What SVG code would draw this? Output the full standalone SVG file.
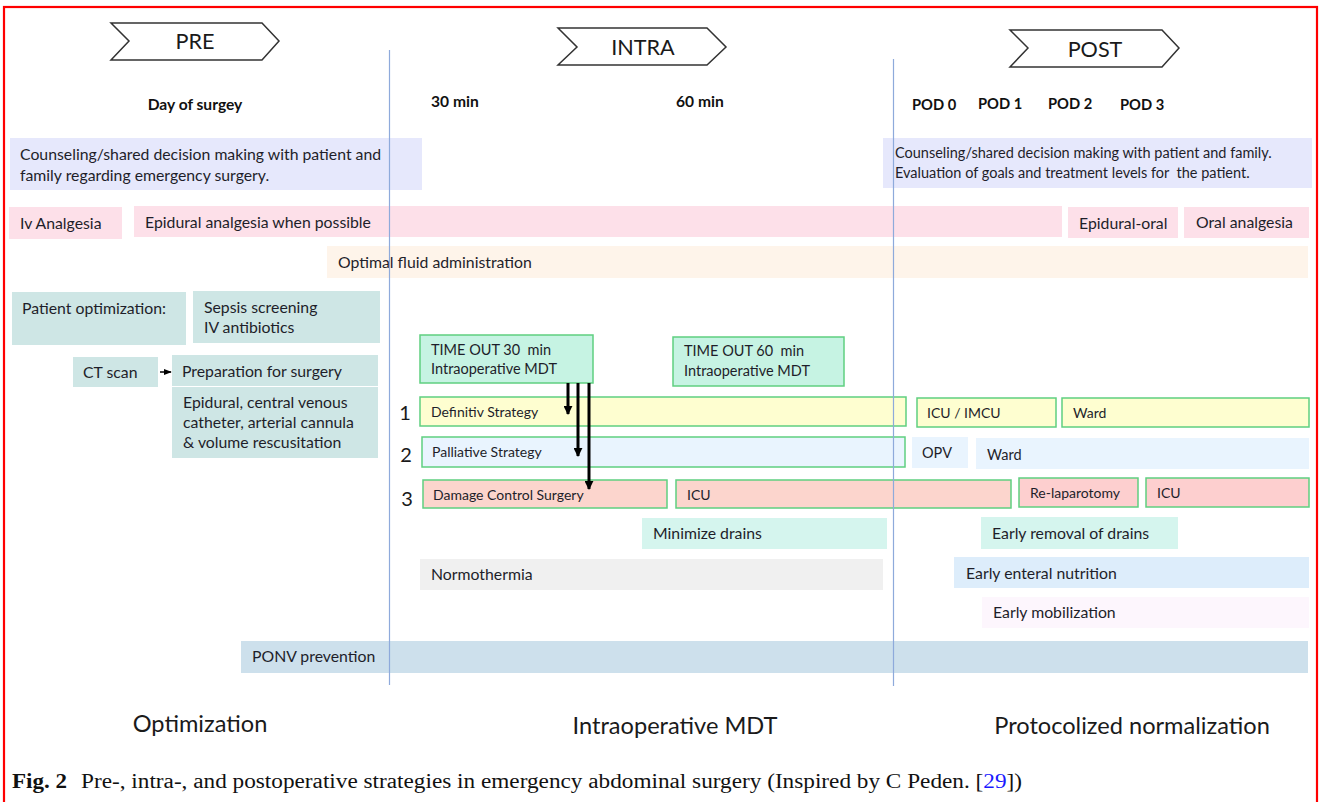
<svg xmlns="http://www.w3.org/2000/svg" width="1320" height="802" viewBox="0 0 1320 802">
<defs>
<style>
.t{font-family:Lato,"Noto Sans","Liberation Sans",sans-serif;font-size:15.8px;fill:#1e1e2a}
.s{font-size:14px}
.m{font-size:14.5px}
.b{font-family:Lato,"Noto Sans","Liberation Sans",sans-serif;font-size:15.6px;font-weight:bold;fill:#111}
.pod{font-size:14.7px}
.big{font-family:Lato,"Noto Sans","Liberation Sans",sans-serif;font-size:23.6px;fill:#1a1a1a}
.chv{font-size:21.6px}
.num{font-family:Lato,"Noto Sans","Liberation Sans",sans-serif;font-size:20px;fill:#1a1a1a}
.cap{font-family:"Liberation Serif","Times New Roman",serif;font-size:20px;fill:#111}
.chev{fill:#fff;stroke:#333;stroke-width:1.5}
.g{stroke:#5fcf80;stroke-width:1.5}
.vl{stroke:#8eaadb;stroke-width:1.2}
.ar{stroke:#000;stroke-width:3;fill:none}
</style>
<marker id="ah" viewBox="0 0 10 10" refX="9" refY="5" markerWidth="3" markerHeight="3" orient="auto"><path d="M0,0 L10,5 L0,10 z" fill="#000"/></marker>
<marker id="ah2" viewBox="0 0 10 10" refX="9" refY="5" markerWidth="8" markerHeight="8" markerUnits="userSpaceOnUse" orient="auto"><path d="M0,1 L10,5 L0,9 z" fill="#000"/></marker>
</defs>
<rect x="0" y="0" width="1320" height="802" fill="#fff"/>
<rect x="4" y="7" width="1313" height="810" fill="none" stroke="#f00" stroke-width="2.2"/>

<g id="phase-pre"><polygon class="chev" points="111,23 262,23 279,41 262,60 111,60 129,41"/><text class="big chv" x="195" y="49" text-anchor="middle">PRE</text></g>
<g id="phase-intra"><polygon class="chev" points="558,28 707,28 726,47 707,65 558,65 577,47"/><text class="big chv" x="643" y="55" text-anchor="middle">INTRA</text></g>
<g id="phase-post"><polygon class="chev" points="1010,30 1162,30 1179,48 1162,67 1010,67 1028,48"/><text class="big chv" x="1095" y="57" text-anchor="middle">POST</text></g>

<g id="timeline-labels">
<text class="b" x="195" y="110" text-anchor="middle">Day of surgey</text>
<text class="b" x="431" y="107">30 min</text>
<text class="b" x="676" y="107">60 min</text>
<text class="b pod" x="912" y="110">POD 0</text>
<text class="b pod" x="978" y="109">POD 1</text>
<text class="b pod" x="1048" y="109">POD 2</text>
<text class="b pod" x="1120" y="110">POD 3</text>
</g>

<g id="counseling-pre"><rect x="10" y="138" width="412" height="52" fill="#e6e8fc"/><text class="t" x="20" y="160">Counseling/shared decision making with patient and</text><text class="t" x="20" y="181">family regarding emergency surgery.</text></g>
<g id="counseling-post"><rect x="883" y="138" width="429" height="50" fill="#e6e8fc"/><text class="t m" x="895" y="158">Counseling/shared decision making with patient and family.</text><text class="t m" x="895" y="178" xml:space="preserve">Evaluation of goals and treatment levels for  the patient.</text></g>

<g id="iv-analgesia"><rect x="9" y="207" width="113" height="32" fill="#fde0e9"/><text class="t" x="20" y="229">Iv Analgesia</text></g>
<g id="epidural-analgesia"><rect x="134" y="206" width="928" height="31" fill="#fde0e9"/><text class="t" x="145" y="228">Epidural analgesia when possible</text></g>
<g id="epidural-oral"><rect x="1068" y="207" width="110" height="31" fill="#fde0e9"/><text class="t" x="1079" y="229">Epidural-oral</text></g>
<g id="oral-analgesia"><rect x="1184" y="207" width="125" height="31" fill="#fde0e9"/><text class="t" x="1196" y="228">Oral analgesia</text></g>

<g id="fluid"><rect x="327" y="246" width="981" height="32" fill="#fef4ea"/><text class="t" x="338" y="268">Optimal fluid administration</text></g>

<g id="patient-optimization"><rect x="12" y="292" width="174" height="53" fill="#cee6e5"/><text class="t" x="22" y="314">Patient optimization:</text></g>
<g id="sepsis"><rect x="193" y="291" width="187" height="52" fill="#cee6e5"/><text class="t" x="204" y="313">Sepsis screening</text><text class="t" x="204" y="333">IV antibiotics</text></g>
<g id="ct-scan"><rect x="73" y="357" width="85" height="30" fill="#cee6e5"/><text class="t" x="83" y="378">CT scan</text></g>
<g id="preparation"><rect x="172" y="355" width="206" height="31" fill="#cee6e5"/><text class="t" x="182" y="377">Preparation for surgery</text></g>
<g id="epidural-cvc"><rect x="172" y="387" width="206" height="71" fill="#cee6e5"/><text class="t" x="183" y="408">Epidural, central venous</text><text class="t" x="183" y="428">catheter, arterial cannula</text><text class="t" x="183" y="448">&amp; volume rescusitation</text></g>

<g id="timeout-30"><rect x="420" y="335" width="173" height="48" fill="#c6f3e3" class="g"/><text class="t m" x="431" y="355" xml:space="preserve">TIME OUT 30  min</text><text class="t m" x="431" y="374">Intraoperative MDT</text></g>
<g id="timeout-60"><rect x="673" y="337" width="171" height="49" fill="#c6f3e3" class="g"/><text class="t m" x="684" y="356" xml:space="preserve">TIME OUT 60  min</text><text class="t m" x="684" y="376">Intraoperative MDT</text></g>

<g id="row-numbers"><text class="num" x="405" y="420" text-anchor="middle">1</text><text class="num" x="406" y="462" text-anchor="middle">2</text><text class="num" x="407" y="506" text-anchor="middle">3</text></g>

<g id="definitiv"><rect x="420" y="397" width="486" height="29" fill="#fefed0" class="g"/><text class="t s" x="431" y="417" font-size="13.6">Definitiv Strategy</text></g>
<g id="icu-imcu"><rect x="917" y="398" width="139" height="29" fill="#fefed0" class="g"/><text class="t s" x="927" y="418">ICU / IMCU</text></g>
<g id="ward-1"><rect x="1062" y="398" width="247" height="29" fill="#fefed0" class="g"/><text class="t s" x="1073" y="418">Ward</text></g>

<g id="palliative"><rect x="422" y="437" width="483" height="30" fill="#e9f4fe" class="g"/><text class="t s" x="432" y="457">Palliative Strategy</text></g>
<g id="opv"><rect x="912" y="437" width="56" height="31" fill="#e9f4fe"/><text class="t m" x="922" y="458">OPV</text></g>
<g id="ward-2"><rect x="976" y="438" width="333" height="31" fill="#e9f4fe"/><text class="t m" x="987" y="460">Ward</text></g>

<g id="damage-control"><rect x="423" y="480" width="244" height="28" fill="#fcd5cd" class="g"/><text class="t s" x="433" y="500">Damage Control Surgery</text></g>
<g id="icu-3"><rect x="676" y="480" width="335" height="28" fill="#fcd5cd" class="g"/><text class="t s" x="687" y="500">ICU</text></g>
<g id="re-laparotomy"><rect x="1019" y="478" width="119" height="29" fill="#fdcfcf" class="g"/><text class="t s" x="1030" y="498">Re-laparotomy</text></g>
<g id="icu-post"><rect x="1146" y="478" width="163" height="29" fill="#fdcfcf" class="g"/><text class="t s" x="1157" y="498">ICU</text></g>

<g id="minimize-drains"><rect x="642" y="518" width="245" height="31" fill="#d5f5ee"/><text class="t" x="653" y="539">Minimize drains</text></g>
<g id="early-removal"><rect x="981" y="517" width="197" height="32" fill="#d5f5ee"/><text class="t" x="992" y="539">Early removal of drains</text></g>
<g id="normothermia"><rect x="420" y="559" width="463" height="31" fill="#f0f0f0"/><text class="t" x="431" y="580">Normothermia</text></g>
<g id="early-enteral"><rect x="954" y="557" width="355" height="31" fill="#ddedfb"/><text class="t" x="966" y="579">Early enteral nutrition</text></g>
<g id="early-mobilization"><rect x="982" y="597" width="327" height="31" fill="#fdf6fd"/><text class="t" x="993" y="618">Early mobilization</text></g>

<g id="ponv"><rect x="241" y="641" width="1067" height="32" fill="#cde0ec"/><text class="t" x="252" y="662" font-size="15.5">PONV prevention</text></g>

<g id="phase-lines"><line class="vl" x1="389.5" y1="50" x2="389.5" y2="685"/><line class="vl" x1="893.5" y1="59" x2="893.5" y2="686"/></g>

<g id="connectors">
<line x1="160" y1="372" x2="171" y2="372" stroke="#000" stroke-width="1.5" marker-end="url(#ah2)"/>
<line class="ar" x1="568" y1="383" x2="568" y2="414" marker-end="url(#ah)"/>
<line class="ar" x1="578" y1="383" x2="578" y2="456" marker-end="url(#ah)"/>
<line class="ar" x1="589" y1="383" x2="589" y2="489" marker-end="url(#ah)"/>
</g>

<g id="footer">
<text class="big" x="200" y="732" text-anchor="middle">Optimization</text>
<text class="big" x="675" y="734" text-anchor="middle">Intraoperative MDT</text>
<text class="big" x="1132" y="734" text-anchor="middle">Protocolized normalization</text>
</g>
<g id="caption"><text class="cap" x="12" y="788" font-weight="bold" textLength="55" lengthAdjust="spacingAndGlyphs">Fig. 2</text><text class="cap" x="81" y="788" textLength="941" lengthAdjust="spacingAndGlyphs">Pre-, intra-, and postoperative strategies in emergency abdominal surgery (Inspired by C Peden. [<tspan fill="#1a1aff">29</tspan>])</text></g>
</svg>
